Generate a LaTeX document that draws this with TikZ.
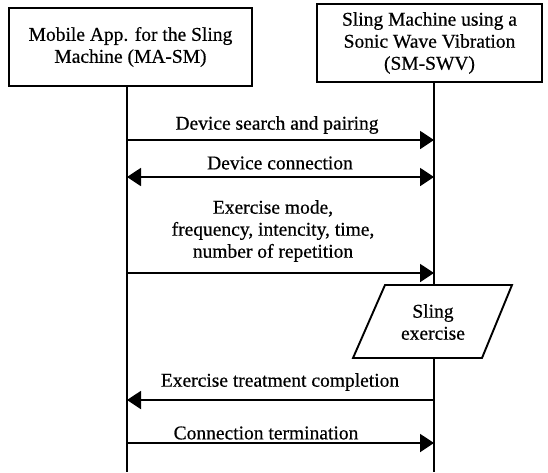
\documentclass[tikz,border=0pt]{standalone}
\usepackage{fontspec}
\setmainfont{Liberation Serif}[UprightFeatures={FakeBold=0.5}]
\usetikzlibrary{arrows.meta}
\begin{document}
\begin{tikzpicture}[x=1pt,y=-1pt,line width=1.9pt,
  every node/.style={font=\fontsize{19.5}{22}\selectfont, inner sep=0pt, align=center},
  actor/.style={draw, minimum height=78pt},
  msg/.style={-{Triangle[length=14pt,width=18pt]}},
  dmsg/.style={{Triangle[length=14pt,width=18pt]}-{Triangle[length=14pt,width=18pt]}},
  lbl/.style={anchor=center}]
\useasboundingbox (0,0) rectangle (548,472);
% actors
\node[actor, minimum width=243pt] (ma) at (130.5,47) {Mobile App. for the Sling\\Machine (MA-SM)};
\node[actor, minimum width=225pt] (sm) at (429.5,43) {Sling Machine using a\\Sonic Wave Vibration\\(SM-SWV)};
% lifelines
\coordinate (Ltop) at (127,86);
\coordinate (Lbot) at (127,472);
\coordinate (Rtop) at (434,82);
\coordinate (Rbot) at (434,472);
% process parallelogram
\coordinate (p1) at (385,285);
\coordinate (p2) at (512,285);
\coordinate (p3) at (482,358);
\coordinate (p4) at (353,358);
\coordinate (Rp1) at (434,285);
\coordinate (Rp2) at (434,358);
\draw (Ltop) -- (Lbot);
\draw (Rtop) -- (Rp1);
\draw (Rp2) -- (Rbot);
\draw (p1) -- (p2) -- (p3) -- (p4) -- cycle;
\node (sling) at (433,322) {Sling\\exercise};
% messages
\coordinate (a1) at (127,140); \coordinate (b1) at (434,140);
\coordinate (a2) at (127,177); \coordinate (b2) at (434,177);
\coordinate (a3) at (127,273); \coordinate (b3) at (434,273);
\coordinate (a4) at (127,400); \coordinate (b4) at (434,400);
\coordinate (a5) at (127,443); \coordinate (b5) at (434,443);
\draw[msg] (a1) -- (b1);
\draw[dmsg] (a2) -- (b2);
\draw[msg] (a3) -- (b3);
\draw[msg] (b4) -- (a4);
\draw[msg] (a5) -- (b5);
% labels
\node[lbl] (t1) at (277,125) {Device search and pairing};
\node[lbl] (t2) at (280,163) {Device connection};
\node[lbl] (t3) at (273,231) {Exercise mode,\\frequency, intencity, time,\\number of repetition};
\node[lbl] (t4) at (280,382) {Exercise treatment completion};
\node[lbl] (t5) at (266,433) {Connection termination};
\end{tikzpicture}
\end{document}
